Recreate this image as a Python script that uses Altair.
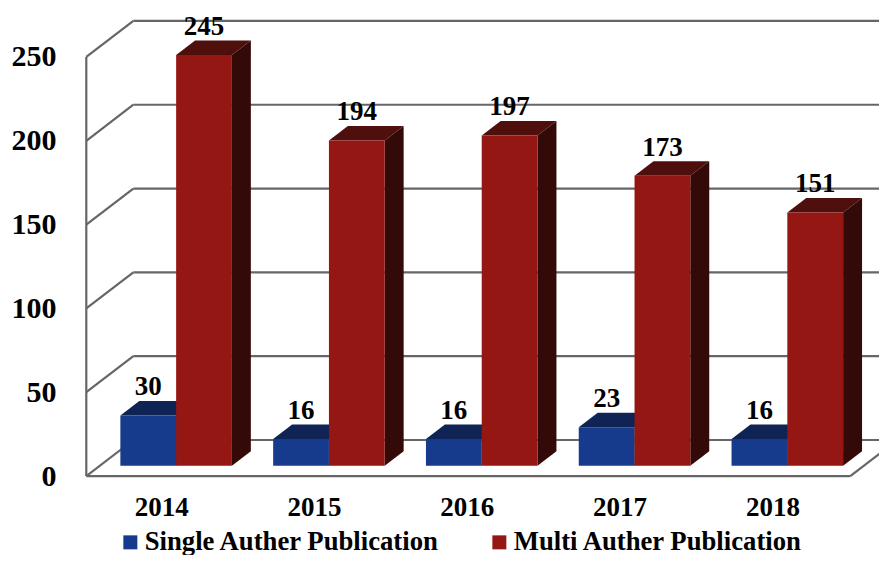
import altair as alt
import pandas as pd

years = ["2014", "2015", "2016", "2017", "2018"]
single = [30, 16, 16, 23, 16]
multi = [245, 194, 197, 173, 151]
ticks = [0, 50, 100, 150, 200, 250]
names = ["Single Auther Publication", "Multi Auther Publication"]
front_colors = ["#163a8c", "#951713"]
top_colors = ["#0f2455", "#4f0f0c"]
side_colors = ["#0c1c44", "#340a08"]
line_color = "#666666"
FONT = "Liberation Serif"

# 3-D geometry, in data units (categories on x, values on y)
WALL_DX, WALL_DY = 0.308, 21.5
BASE_DX, BASE_DY = 0.088, 6.15
BAR_DX, BAR_DY = 0.124, 8.65
BAR_W = 0.365
LEFT, RIGHT = -0.5, 4.5

xs = alt.Scale(domain=[-1.0124, 4.688], nice=False, zero=False)
ys = alt.Scale(domain=[-47.1, 279.2], nice=False, zero=False)
X = lambda **k: alt.X("x:Q", scale=xs, title=None, **k)
Y = lambda **k: alt.Y("y:Q", scale=ys, title=None, **k)

# frame
seg = []
def add(i, x0, y0, x1, y1):
    seg.append({"id": i, "x": x0, "y": y0, "o": 0})
    seg.append({"id": i, "x": x1, "y": y1, "o": 1})
n = 0
add(n, LEFT, 0, LEFT, ticks[-1]); n += 1
add(n, LEFT, 0, RIGHT, 0); n += 1
add(n, RIGHT, 0, RIGHT + WALL_DX, WALL_DY); n += 1
for t in ticks:
    add(n, LEFT, t, LEFT + WALL_DX, t + WALL_DY); n += 1
    add(n, LEFT + WALL_DX, t + WALL_DY, RIGHT + WALL_DX, t + WALL_DY); n += 1

frame = alt.Chart(pd.DataFrame(seg)).mark_line(
    color=line_color, strokeWidth=2.2, clip=True
).encode(
    x=alt.X("x:Q", scale=xs, title=None,
            axis=alt.Axis(values=list(range(5)), labelExpr="datum.value + 2014",
                          orient="bottom", offset=-79, domain=False, ticks=False, grid=False,
                          labelFont=FONT, labelFontWeight="bold", labelFontSize=27,
                          labelColor="black", labelPadding=18, labelOffset=-1.5,
                          labelFlush=False, labelOverlap=False)),
    y=alt.Y("y:Q", scale=ys, title=None,
            axis=alt.Axis(values=ticks, orient="left", offset=-78, domain=False, ticks=False,
                          grid=False, labelFont=FONT, labelFontWeight="bold", labelFontSize=30,
                          labelColor="black", labelPadding=30, labelFlush=False,
                          labelOverlap=False)),
    detail="id:N", order="o:Q",
)

def series_layers(values, k):
    top, side, front = [], [], []
    for c, v in enumerate(values):
        x0 = c + BASE_DX + (k - 1) * BAR_W
        x1 = x0 + BAR_W
        b = BASE_DY
        t = BASE_DY + v
        top += [
            dict(id=c, x=x0, y=t, y2=t),
            dict(id=c, x=x0 + BAR_DX, y=t, y2=t + BAR_DY),
            dict(id=c, x=x1, y=t, y2=t + BAR_DY),
            dict(id=c, x=x1 + BAR_DX, y=t + BAR_DY, y2=t + BAR_DY),
        ]
        side += [
            dict(id=c, x=x1, y=b, y2=t),
            dict(id=c, x=x1 + BAR_DX, y=b + BAR_DY, y2=t + BAR_DY),
        ]
        front.append(dict(x=x0, x2=x1, y=b, y2=t, name=names[k]))
    def area(rows, color):
        return alt.Chart(pd.DataFrame(rows)).mark_area(
            color=color, orient="vertical", clip=True, interpolate="linear"
        ).encode(X(), Y(stack=None), y2="y2:Q", detail="id:N")
    f = alt.Chart(pd.DataFrame(front)).mark_rect().encode(
        X(), x2="x2:Q", y=Y(), y2="y2:Q",
        color=alt.Color("name:N",
                        scale=alt.Scale(domain=names, range=front_colors),
                        legend=alt.Legend(
                            title=None, orient="none", direction="horizontal", columns=2,
                            legendX=109, legendY=521, symbolType="square", symbolSize=196,
                            symbolStrokeWidth=0, labelFont=FONT, labelFontWeight="bold",
                            labelFontSize=26.7, labelColor="black", labelLimit=400,
                            columnPadding=46, labelOffset=1, padding=0, symbolOpacity=1,
                            gridAlign="none")),
    )
    lab = pd.DataFrame([
        dict(x=c + BASE_DX + (k - 0.5) * BAR_W, y=BASE_DY + v + 12, t=str(v))
        for c, v in enumerate(values)
    ])
    txt = alt.Chart(lab).mark_text(
        font=FONT, fontWeight="bold", fontSize=27, color="black", baseline="alphabetic", align="center"
    ).encode(X(), Y(), text="t:N")
    return [area(top, top_colors[k]), area(side, side_colors[k]), f], txt

l0, t0 = series_layers(single, 0)
l1, t1 = series_layers(multi, 1)

chart = alt.layer(frame, *l0, *l1, t0, t1).properties(
    width=871, height=547, padding=0,
    autosize=alt.AutoSizeParams(type="none"),
    background="white",
).configure_view(strokeWidth=0)

chart.save("out.html", embed_options={"renderer": "svg", "actions": False})
